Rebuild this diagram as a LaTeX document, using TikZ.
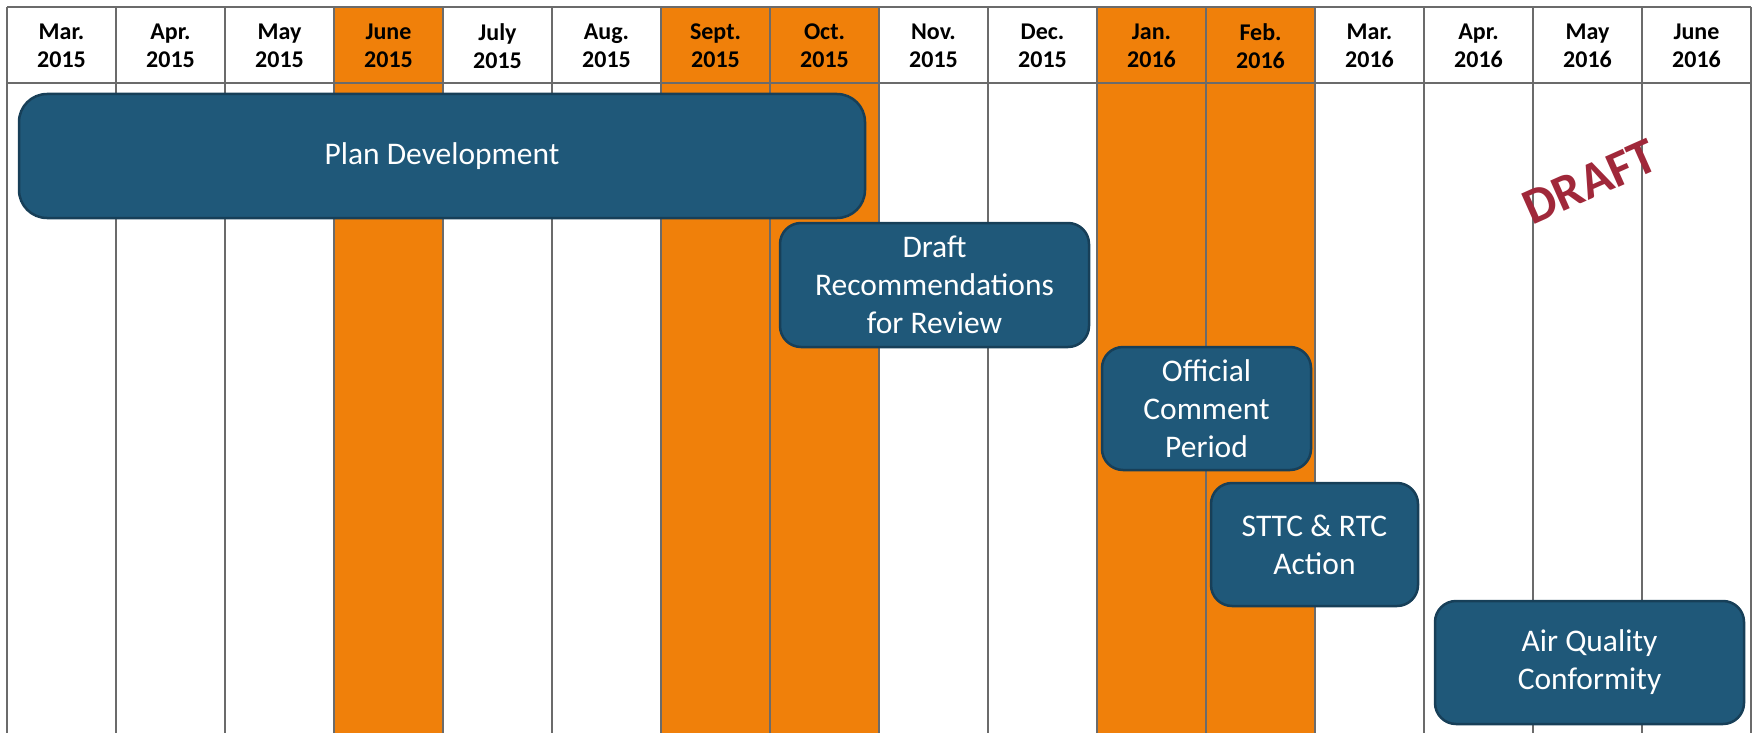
\documentclass[tikz,border=0pt]{standalone}
\usepackage{fontspec}
\setmainfont{Carlito}
\usepackage{tikz}
\usetikzlibrary{positioning}

\definecolor{hiorange}{HTML}{F0800A}
\definecolor{taskblue}{HTML}{1F5879}
\definecolor{taskedge}{HTML}{173F58}
\definecolor{gridgray}{HTML}{6B6B6B}
\definecolor{draftred}{HTML}{A0283A}

\begin{document}
\begin{tikzpicture}[x=1pt, y=-1pt,
    month/.style={align=center, inner sep=0pt,
                  font=\fontsize{24}{28}\selectfont\bfseries},
    task/.style={draw=taskedge, line width=2.5pt, fill=taskblue, text=white,
                 align=center, inner sep=0pt, rounded corners=21pt,
                 font=\fontsize{31.5}{38}\selectfont}]
    \useasboundingbox (0,0) rectangle (1755,733);

    % highlighted months
    \foreach \i in {3,6,7,10,11}
        \fill [hiorange] (7+109*\i,7) rectangle (116+109*\i,733);

    % grid
    \foreach \i in {0,...,16}
        \draw [gridgray, line width=2.5pt] (7+109*\i,7) -- (7+109*\i,733);
    \draw [gridgray, line width=2.5pt] (7,7) -- (1751,7);
    \draw [gridgray, line width=2.5pt] (7,83) -- (1751,83);

    % month labels
    \foreach [count=\i from 0] \mon/\yr in {Mar./2015, Apr./2015, May/2015,
            June/2015, July/2015, Aug./2015, Sept./2015, Oct./2015,
            Nov./2015, Dec./2015, Jan./2016, Feb./2016, Mar./2016,
            Apr./2016, May/2016, June/2016}
        \node [month] (m\i) at (61.5+109*\i,46) {\mon\\\yr};

    % tasks
    \node [task, minimum width=846pt, minimum height=124pt, rounded corners=28pt]
          (plan) at (442,156) {Plan Development};
    \node [task, minimum width=309pt, minimum height=124pt]
          (recs) at (934.5,285) {Draft\\Recommendations\\for Review};
    \node [task, minimum width=209pt, minimum height=123pt]
          (comment) at (1206.5,408.5) {Official\\Comment\\Period};
    \node [task, minimum width=207pt, minimum height=123pt]
          (action) at (1314.5,544.5) {STTC \& RTC\\Action};
    \node [task, minimum width=309pt, minimum height=123pt]
          (conform) at (1589.5,662.5) {Air Quality\\Conformity};

    \node [rotate=24, text=draftred, inner sep=0pt,
           font=\fontsize{51}{60}\selectfont\bfseries] (draft) at (1590,182) {DRAFT};
\end{tikzpicture}
\end{document}
